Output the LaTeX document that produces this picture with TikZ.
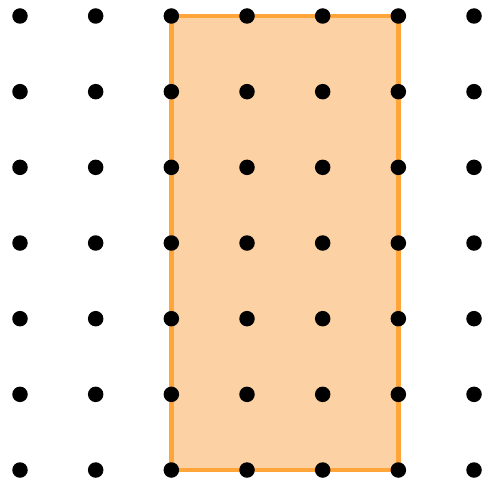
\documentclass[tikz,border=0pt]{standalone}
\usepackage{tikz}
\definecolor{rectfill}{HTML}{FCD2A4}
\definecolor{rectline}{HTML}{FFA53A}
\begin{document}
\begin{tikzpicture}[
					x = 1pt, y = -1pt,
					dot/.style = {circle,fill=black,inner sep=0pt,minimum size=15.5pt},
					declare function = {
						gx(\i) = 20+75.67*\i;
						gy(\j) = 16+75.67*\j;
					}]

					\useasboundingbox (0,0) rectangle (482,481);

					\coordinate (tl) at ({gx(2)},{gy(0)});
					\coordinate (br) at ({gx(5)},{gy(6)});
					\draw[rectline,fill=rectfill,line width=4.5pt] (tl) rectangle (br);

					\foreach \i in {0,...,6}
						\foreach \j in {0,...,6}
							\node[dot] (p\i\j) at ({gx(\i)},{gy(\j)}) {};

				\end{tikzpicture}
\end{document}
